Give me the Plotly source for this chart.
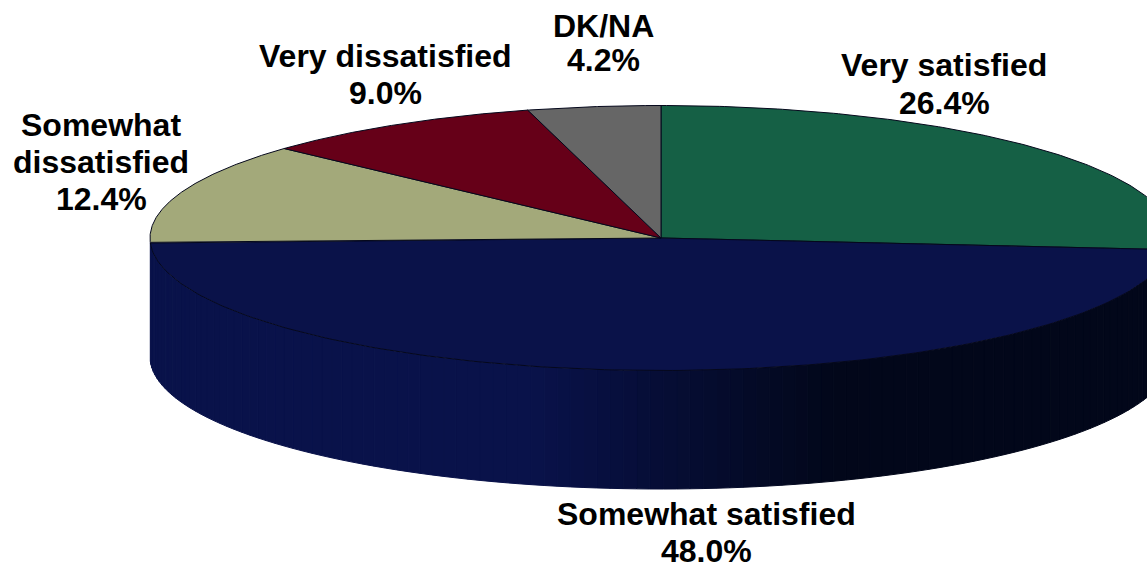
import numpy as np
import plotly.graph_objects as go

categories = ["Very satisfied", "Somewhat satisfied", "Somewhat dissatisfied", "Very dissatisfied", "DK/NA"]
values = [26.4, 48.0, 12.4, 9.0, 4.2]
colors = ["#156045", "#0A1249", "#A3A97A", "#660018", "#666666"]
label_lines = [["Very satisfied"], ["Somewhat satisfied"], ["Somewhat", "dissatisfied"], ["Very dissatisfied"], ["DK/NA"]]
label_x = [944, 706, 101, 385, 603]
label_y = [65, 514, 125, 56, 26]
line_gap = [38, 37, 37, 37, 34]

CX, CY, RX, RY, DEPTH = 661, 238, 511, 132.5, 118.5
SIDE_LEFT, SIDE_RIGHT = (9, 18, 74), (2, 7, 26)

fig = go.Figure()


def px(theta, dy=0.0):
    return CX + RX * np.sin(theta), CY - RY * np.cos(theta) + dy


edges = np.cumsum([0] + values) / 100 * 2 * np.pi

# side wall of the visible lower half, as narrow shaded strips
strips = np.radians(np.linspace(90, 268, 120))
for a, b in zip(strips[:-1], strips[1:]):
    x0, y0 = px(a)
    x1, y1 = px(b)
    x2, y2 = px(b, DEPTH)
    x3, y3 = px(a, DEPTH)
    t = np.clip((x0 - 540) / 300, 0, 1)
    c = [round(SIDE_LEFT[i] + (SIDE_RIGHT[i] - SIDE_LEFT[i]) * t) for i in range(3)]
    col = f"rgb({c[0]},{c[1]},{c[2]})"
    fig.add_trace(go.Scatter(x=[x0, x1, x2, x3, x0], y=[y0, y1, y2, y3, y0], mode="lines",
                             fill="toself", fillcolor=col, line=dict(color=col, width=1),
                             hoverinfo="skip", showlegend=False))

# top face wedges
for i, (name, v) in enumerate(zip(categories, values)):
    th = np.linspace(edges[i], edges[i + 1], 160)
    xs, ys = px(th)
    xs = np.concatenate([[CX], xs, [CX]])
    ys = np.concatenate([[CY], ys, [CY]])
    fig.add_trace(go.Scatter(x=xs, y=ys, mode="lines", fill="toself", fillcolor=colors[i],
                             line=dict(color="#05081C", width=1), name=name, showlegend=False))

for lines, v, x, y, gap in zip(label_lines, values, label_x, label_y, line_gap):
    for j, text in enumerate(lines + [f"{v:.1f}%"]):
        fig.add_annotation(x=x, y=y + j * gap, text=f"<b>{text}</b>", showarrow=False,
                           font=dict(family="Liberation Sans", size=32, color="#000000"), align="center")

fig.update_layout(width=1147, height=565, margin=dict(l=0, r=0, t=0, b=0),
                  paper_bgcolor="white", plot_bgcolor="white",
                  xaxis=dict(range=[0, 1147], visible=False, fixedrange=True),
                  yaxis=dict(range=[565, 0], visible=False, fixedrange=True))
fig.write_html("out.html", config={"displayModeBar": False},
               post_script="document.body.style.margin='0';document.documentElement.style.overflow='hidden';")
